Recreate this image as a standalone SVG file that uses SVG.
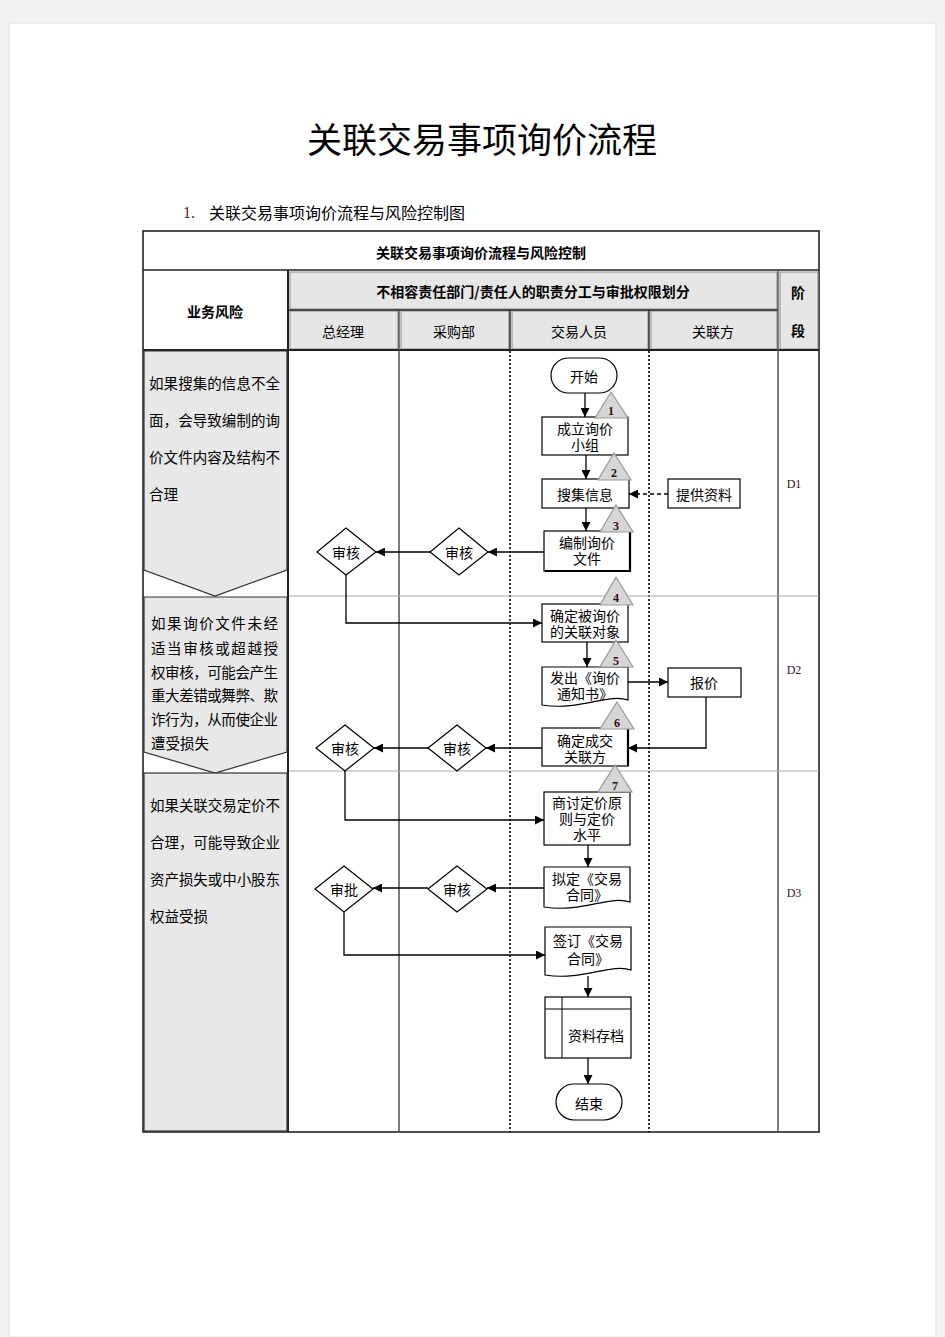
<svg xmlns="http://www.w3.org/2000/svg" width="945" height="1337" viewBox="0 0 945 1337">
<style>
.t{font-family:"Noto Sans CJK SC","Noto Sans",sans-serif;font-size:14px;fill:#000;text-anchor:middle;dominant-baseline:central}
.b{font-weight:bold}
.r{font-family:"Noto Sans CJK SC","Noto Sans",sans-serif;font-size:14.5px;fill:#000;dominant-baseline:central}
.box{fill:#fff;stroke:#000;stroke-width:1.2}
.dia{fill:#fff;stroke:#000;stroke-width:1.2}
.tri{fill:#d6d6d6;stroke:#999;stroke-width:1.2}
.num{font-family:"Liberation Serif",serif;font-weight:bold;font-size:12px;fill:#2a1010;text-anchor:middle;dominant-baseline:central}
.ph{font-family:"Liberation Serif",serif;font-size:12px;fill:#3a1020;text-anchor:middle;dominant-baseline:central}
.hdr{fill:#e6e6e6;stroke:#888;stroke-width:1}
.risk{fill:#e8e8e8;stroke:#333;stroke-width:1.2}
.ln{fill:none;stroke:#000;stroke-width:1.3}
.dot{fill:none;stroke:#000;stroke-width:1.6;stroke-dasharray:2,2}
</style>
<defs>
<marker id="ah" viewBox="0 0 10 10" refX="10" refY="5" markerWidth="9" markerHeight="9" markerUnits="userSpaceOnUse" orient="auto">
<path d="M0,0 L10,5 L0,10 Z" fill="#000"/>
</marker>
</defs>
<rect x="0" y="0" width="945" height="1337" fill="#f3f3f3"/>
<rect x="9" y="23" width="927" height="1314" fill="#fff" stroke="#e2e2e2"/>

<text x="482" y="137" style="font-family:'Noto Sans CJK SC',sans-serif;font-size:35px;text-anchor:middle;dominant-baseline:central">关联交易事项询价流程</text>
<text x="183" y="212" style="font-family:'Noto Sans CJK SC',sans-serif;font-size:16px;dominant-baseline:central"><tspan style="font-family:'Liberation Serif',serif;fill:#5a1a1a">1.</tspan><tspan x="209">关联交易事项询价流程与风险控制图</tspan></text>

<g id="table">
<rect x="143" y="231" width="676" height="901" fill="#fff" stroke="#222" stroke-width="1.6"/>
<rect class="hdr" x="290" y="272" width="487" height="37"/>
<rect class="hdr" x="290" y="311" width="108" height="38"/>
<rect class="hdr" x="401" y="311" width="108" height="38"/>
<rect class="hdr" x="512" y="311" width="136" height="38"/>
<rect class="hdr" x="651" y="311" width="126" height="38"/>
<rect class="hdr" x="780" y="272" width="38" height="77"/>
<line x1="143" y1="270" x2="819" y2="270" stroke="#222" stroke-width="1.6"/>
<line x1="288" y1="310" x2="778" y2="310" stroke="#222" stroke-width="1.4"/>
<line x1="143" y1="350" x2="819" y2="350" stroke="#222" stroke-width="2"/>
<line x1="288" y1="270" x2="288" y2="1132" stroke="#222" stroke-width="2"/>
<line x1="778" y1="270" x2="778" y2="1132" stroke="#555" stroke-width="1.5"/>
<line x1="399" y1="310" x2="399" y2="1132" stroke="#444" stroke-width="1.4"/>
<line x1="510" y1="310" x2="510" y2="350" stroke="#222" stroke-width="1.4"/>
<line x1="649" y1="310" x2="649" y2="350" stroke="#222" stroke-width="1.4"/>
<line class="dot" x1="510" y1="351" x2="510" y2="1132"/>
<line class="dot" x1="649" y1="351" x2="649" y2="1132"/>
<line x1="289" y1="596" x2="819" y2="596" stroke="#aaa" stroke-width="1"/>
<line x1="289" y1="771" x2="819" y2="771" stroke="#aaa" stroke-width="1"/>
<text class="t b" x="481" y="252">关联交易事项询价流程与风险控制</text>
<text class="t b" x="215" y="311">业务风险</text>
<text class="t b" x="533" y="291">不相容责任部门/责任人的职责分工与审批权限划分</text>
<text class="t" x="343" y="331">总经理</text>
<text class="t" x="454" y="331">采购部</text>
<text class="t" x="579" y="331">交易人员</text>
<text class="t" x="713" y="331">关联方</text>
<text class="t b" x="798" y="292">阶</text>
<text class="t b" x="798" y="330">段</text>
<text class="ph" x="794" y="484">D1</text>
<text class="ph" x="794" y="670">D2</text>
<text class="ph" x="794" y="893">D3</text>
</g>

<g id="risk1">
<path class="risk" d="M144,351 H287 V570 L215,596 L144,570 Z"/>
<text class="r" x="149" y="382" textLength="131" lengthAdjust="spacing">如果搜集的信息不全</text>
<text class="r" x="149" y="419" textLength="131" lengthAdjust="spacing">面，会导致编制的询</text>
<text class="r" x="149" y="456" textLength="131" lengthAdjust="spacing">价文件内容及结构不</text>
<text class="r" x="149" y="493">合理</text>
</g>
<g id="risk2">
<path class="risk" d="M144,597 H287 V752 L215,773 L144,752 Z"/>
<text class="r" x="151" y="622" textLength="127" lengthAdjust="spacing">如果询价文件未经</text>
<text class="r" x="151" y="647" textLength="127" lengthAdjust="spacing">适当审核或超越授</text>
<text class="r" x="151" y="671" textLength="127" lengthAdjust="spacing">权审核，可能会产生</text>
<text class="r" x="151" y="694" textLength="127" lengthAdjust="spacing">重大差错或舞弊、欺</text>
<text class="r" x="151" y="718" textLength="127" lengthAdjust="spacing">诈行为，从而使企业</text>
<text class="r" x="151" y="742">遭受损失</text>
</g>
<g id="risk3">
<rect class="risk" x="144" y="773" width="143" height="358"/>
<text class="r" x="150" y="804" textLength="130" lengthAdjust="spacing">如果关联交易定价不</text>
<text class="r" x="150" y="841" textLength="130" lengthAdjust="spacing">合理，可能导致企业</text>
<text class="r" x="150" y="878" textLength="130" lengthAdjust="spacing">资产损失或中小股东</text>
<text class="r" x="150" y="915">权益受损</text>
</g>

<g id="connectors">
<line class="ln" x1="585" y1="393" x2="585" y2="417" marker-end="url(#ah)"/>
<line class="ln" x1="586" y1="455" x2="586" y2="479" marker-end="url(#ah)"/>
<line class="ln" x1="586" y1="508" x2="586" y2="531" marker-end="url(#ah)"/>
<line class="ln" x1="668" y1="494" x2="629" y2="494" stroke-dasharray="4,3" marker-end="url(#ah)"/>
<line class="ln" x1="544" y1="552" x2="488" y2="552" marker-end="url(#ah)"/>
<line class="ln" x1="430" y1="552" x2="376" y2="552" marker-end="url(#ah)"/>
<polyline class="ln" points="346,575 346,623 542,623" marker-end="url(#ah)"/>
<line class="ln" x1="587" y1="642" x2="587" y2="667" marker-end="url(#ah)"/>
<line class="ln" x1="628" y1="682" x2="668" y2="682" marker-end="url(#ah)"/>
<polyline class="ln" points="706,697 706,748 628,748" marker-end="url(#ah)"/>
<line class="ln" x1="542" y1="748" x2="486" y2="748" marker-end="url(#ah)"/>
<line class="ln" x1="428" y1="748" x2="374" y2="748" marker-end="url(#ah)"/>
<polyline class="ln" points="345,771 345,820 544,820" marker-end="url(#ah)"/>
<line class="ln" x1="588" y1="845" x2="588" y2="867" marker-end="url(#ah)"/>
<line class="ln" x1="544" y1="888" x2="487" y2="888" marker-end="url(#ah)"/>
<line class="ln" x1="428" y1="888" x2="373" y2="888" marker-end="url(#ah)"/>
<polyline class="ln" points="344,912 344,955 545,955" marker-end="url(#ah)"/>
<line class="ln" x1="588" y1="976" x2="588" y2="997" marker-end="url(#ah)"/>
<line class="ln" x1="588" y1="1058" x2="588" y2="1084" marker-end="url(#ah)"/>
</g>

<g id="start">
<rect class="box" x="551" y="358" width="66" height="35" rx="17.5"/>
<text class="t" x="584" y="376">开始</text>
</g>
<g id="n1">
<rect class="box" x="542" y="417" width="86" height="38"/>
<text class="t" x="585" y="428">成立询价<tspan x="585" dy="16">小组</tspan></text>
</g>
<g id="n2">
<rect class="box" x="542" y="479" width="87" height="29"/>
<text class="t" x="585" y="494">搜集信息</text>
</g>
<g id="provide">
<rect class="box" x="668" y="479" width="72" height="29"/>
<text class="t" x="704" y="494">提供资料</text>
</g>
<g id="n3">
<rect class="box" x="544" y="531" width="86" height="40"/>
<path d="M630,532 V571 H545" fill="none" stroke="#000" stroke-width="2.2"/>
<text class="t" x="587" y="542">编制询价<tspan x="587" dy="16">文件</tspan></text>
</g>
<g id="d1a">
<polygon class="dia" points="459,528 488,552 459,575 430,552"/>
<text class="t" x="459" y="552">审核</text>
</g>
<g id="d1b">
<polygon class="dia" points="346,528 376,552 346,575 317,552"/>
<text class="t" x="346" y="552">审核</text>
</g>
<g id="n4">
<rect class="box" x="542" y="604" width="86" height="38"/>
<text class="t" x="585" y="615">确定被询价<tspan x="585" dy="16">的关联对象</tspan></text>
</g>
<g id="n5">
<path class="box" d="M542,667 H628 V700 C608,693 580,711 542,705 Z"/>
<text class="t" x="585" y="677">发出《询价<tspan x="585" dy="16">通知书》</tspan></text>
</g>
<g id="quote">
<rect class="box" x="668" y="668" width="73" height="29"/>
<text class="t" x="704" y="682">报价</text>
</g>
<g id="n6">
<rect class="box" x="542" y="728" width="86" height="38"/>
<path d="M628,729 V766" fill="none" stroke="#000" stroke-width="2.2"/>
<text class="t" x="585" y="740">确定成交<tspan x="585" dy="16">关联方</tspan></text>
</g>
<g id="d2a">
<polygon class="dia" points="457,725 486,748 457,771 428,748"/>
<text class="t" x="457" y="748">审核</text>
</g>
<g id="d2b">
<polygon class="dia" points="345,725 374,748 345,771 316,748"/>
<text class="t" x="345" y="748">审核</text>
</g>
<g id="n7">
<rect class="box" x="544" y="792" width="86" height="53"/>
<text class="t" x="587" y="802">商讨定价原<tspan x="587" dy="16">则与定价</tspan><tspan x="587" dy="16">水平</tspan></text>
</g>
<g id="n8">
<path class="box" d="M544,867 H630 V902 C610,895 582,913 544,907 Z"/>
<text class="t" x="587" y="878">拟定《交易<tspan x="587" dy="16">合同》</tspan></text>
</g>
<g id="d3a">
<polygon class="dia" points="457,866 487,889 457,912 428,889"/>
<text class="t" x="457" y="889">审核</text>
</g>
<g id="d3b">
<polygon class="dia" points="344,866 373,889 344,912 315,889"/>
<text class="t" x="344" y="889">审批</text>
</g>
<g id="n9">
<path class="box" d="M545,927 H631 V970 C611,963 583,981 545,975 Z"/>
<text class="t" x="588" y="940">签订《交易<tspan x="588" dy="18">合同》</tspan></text>
</g>
<g id="archive">
<rect class="box" x="545" y="997" width="86" height="61"/>
<line x1="545" y1="1009" x2="631" y2="1009" stroke="#000" stroke-width="1"/>
<line x1="562" y1="997" x2="562" y2="1058" stroke="#000" stroke-width="1"/>
<text class="t" x="596" y="1035">资料存档</text>
</g>
<g id="end">
<rect class="box" x="556" y="1084" width="66" height="36" rx="18"/>
<text class="t" x="589" y="1103">结束</text>
</g>

<g id="markers">
<polygon class="tri" points="611,392 628,418 595,418"/><text class="num" x="611" y="411">1</text>
<polygon class="tri" points="614,453 631,480 598,480"/><text class="num" x="614" y="473">2</text>
<polygon class="tri" points="616,505 633,532 600,532"/><text class="num" x="616" y="526">3</text>
<polygon class="tri" points="616,577 633,605 600,605"/><text class="num" x="616" y="598">4</text>
<polygon class="tri" points="616,640 633,667 600,667"/><text class="num" x="616" y="661">5</text>
<polygon class="tri" points="617,702 634,729 600,729"/><text class="num" x="617" y="723">6</text>
<polygon class="tri" points="615,765 632,792 598,792"/><text class="num" x="615" y="786">7</text>
</g>
</svg>
